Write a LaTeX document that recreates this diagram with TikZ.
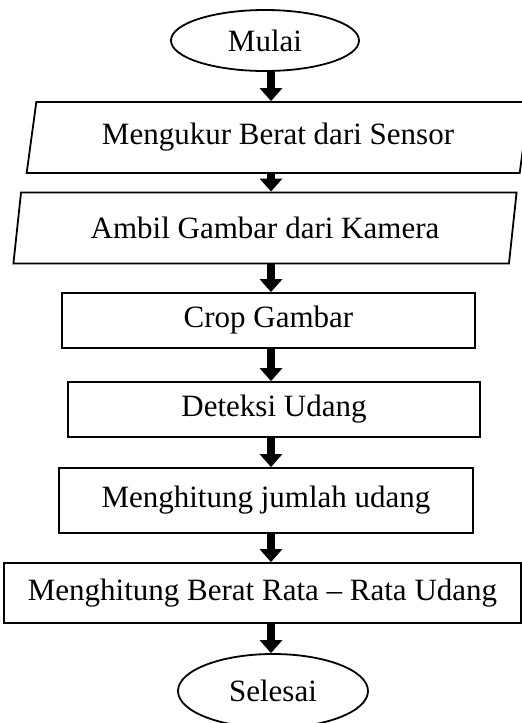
\documentclass[tikz,border=0pt]{standalone}
\usepackage{fontspec}
\setmainfont{Liberation Serif}
\usetikzlibrary{shapes.geometric,arrows.meta}

\begin{document}
\begin{tikzpicture}[x=0.5pt,y=-0.5pt,
  every node/.style={font=\fontsize{15.5}{18}\selectfont,line width=0.9pt,inner sep=0pt},
  term/.style={draw,ellipse},
  io/.style={draw,trapezium,trapezium left angle=76,trapezium right angle=104,trapezium stretches=true,minimum width=252pt,minimum height=35.5pt},
  proc/.style={draw,rectangle,minimum height=27.5pt},
  arr/.style={line width=4pt,-{Triangle[width=11pt,length=6.5pt]}}]
\useasboundingbox (0,0) rectangle (522,723);
\node[term,minimum width=94pt,minimum height=30.5pt] (mulai) at (265,40.5) {Mulai};
\node[io] (sensor) at (278,137.5) {Mengukur Berat dari Sensor};
\node[io] (kamera) at (265,228) {Ambil Gambar dari Kamera};
\node[proc,minimum width=206.5pt] (crop) at (268.5,320.5) {Crop Gambar};
\node[proc,minimum width=206pt] (deteksi) at (274,409.5) {Deteksi Udang};
\node[proc,minimum width=207pt,minimum height=32.5pt] (jumlah) at (266,500.5) {Menghitung jumlah udang};
\node[proc,minimum width=258.5pt,minimum height=30pt] (berat) at (262.5,593) {Menghitung Berat Rata -- Rata Udang};
\node[term,minimum width=95pt,minimum height=37pt] (selesai) at (273,691) {Selesai};
\coordinate (spine) at (271,0);
\draw[arr] (spine |- mulai.south) -- (spine |- sensor.north);
\draw[arr] (spine |- sensor.south) -- (spine |- kamera.north);
\draw[arr] (spine |- kamera.south) -- (spine |- crop.north);
\draw[arr] (spine |- crop.south) -- (spine |- deteksi.north);
\draw[arr] (spine |- deteksi.south) -- (spine |- jumlah.north);
\draw[arr] (spine |- jumlah.south) -- (spine |- berat.north);
\draw[arr] (spine |- berat.south) -- (spine |- selesai.north);
\end{tikzpicture}
\end{document}
